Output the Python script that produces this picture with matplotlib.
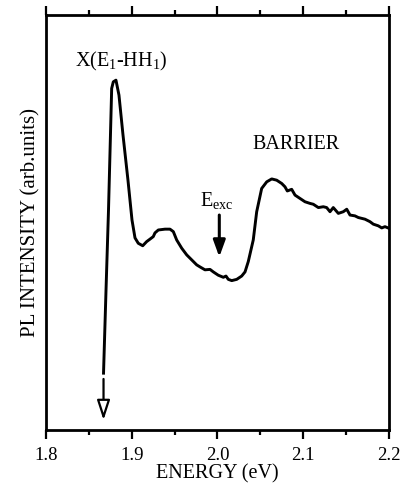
import matplotlib
matplotlib.use("Agg")
import matplotlib.pyplot as plt
from matplotlib.ticker import MultipleLocator

plt.rcParams["font.family"] = ["Liberation Serif", "DejaVu Serif"]
plt.rcParams["mathtext.fontset"] = "custom"
plt.rcParams["mathtext.rm"] = "Liberation Serif"
plt.rcParams["mathtext.it"] = "Liberation Serif:italic"

# PL spectrum (photon energy in eV, intensity in arbitrary units)
energy = [
    1.8671, 1.8700, 1.8729, 1.8766, 1.8785, 1.8816, 1.8851, 1.8898,
    1.8956, 1.9003, 1.9038, 1.9076, 1.9128, 1.9174, 1.9213, 1.9251,
    1.9271, 1.9310, 1.9388, 1.9446, 1.9485, 1.9524, 1.9583, 1.9641,
    1.9699, 1.9757, 1.9796, 1.9854, 1.9913, 1.9951, 2.0009, 2.0068,
    2.0099, 2.0126, 2.0166, 2.0224, 2.0282, 2.0321, 2.0359, 2.0417,
    2.0457, 2.0515, 2.0574, 2.0632, 2.0690, 2.0749, 2.0787, 2.0814,
    2.0865, 2.0904, 2.0962, 2.1020, 2.1079, 2.1117, 2.1176, 2.1234,
    2.1273, 2.1312, 2.1350, 2.1409, 2.1467, 2.1507, 2.1545, 2.1603,
    2.1642, 2.1720, 2.1778, 2.1817, 2.1875, 2.1915, 2.1953, 2.2000,
]
intensity = [
    0.137, 0.337, 0.530, 0.823, 0.839, 0.843, 0.807, 0.711,
    0.602, 0.506, 0.463, 0.450, 0.444, 0.454, 0.460, 0.466,
    0.475, 0.482, 0.484, 0.484, 0.478, 0.458, 0.438, 0.422,
    0.410, 0.398, 0.393, 0.386, 0.387, 0.381, 0.373, 0.368,
    0.371, 0.363, 0.360, 0.363, 0.371, 0.381, 0.406, 0.458,
    0.526, 0.582, 0.598, 0.605, 0.602, 0.594, 0.586, 0.576,
    0.580, 0.566, 0.558, 0.550, 0.546, 0.544, 0.536, 0.538,
    0.536, 0.526, 0.536, 0.522, 0.526, 0.532, 0.518, 0.516,
    0.512, 0.508, 0.502, 0.496, 0.492, 0.487, 0.490, 0.486,
]

# exciton line continues below the frame (open arrow) and excitation energy
exciton_energy = 1.8671
exciton_arrow = (0.123, 0.024)
exc_energy = 2.0021
exc_arrow = (0.518, 0.417)

fig = plt.figure(figsize=(4.03, 4.87), dpi=100)
ax = fig.add_axes([0.1141, 0.1170, 0.8512, 0.8522])

ax.plot(energy, intensity, color="black", lw=2.1, solid_joinstyle="round")

ax.annotate("", xy=(exciton_energy, exciton_arrow[1]),
            xytext=(exciton_energy, exciton_arrow[0]),
            arrowprops=dict(arrowstyle="-|>,head_length=0.4,head_width=0.13",
                            mutation_scale=30, lw=1.6, facecolor="white",
                            edgecolor="black", shrinkA=0, shrinkB=0))
ax.annotate("", xy=(exc_energy, exc_arrow[1]),
            xytext=(exc_energy, exc_arrow[0]),
            arrowprops=dict(arrowstyle="-|>,head_length=0.33,head_width=0.12",
                            mutation_scale=30, lw=2.2, facecolor="black",
                            edgecolor="black", shrinkA=0, shrinkB=0))

ax.text(1.8875, 0.887, r"X(E$_\mathrm{1}$-HH$_\mathrm{1}$)", fontsize=14.5,
        ha="center", va="center")
ax.text(1.9994, 0.552, r"E$_\mathrm{exc}$", fontsize=14.5, ha="center", va="center")
ax.text(2.0915, 0.687, "BARRIER", fontsize=14.5, ha="center", va="center")

ax.set_xlim(1.8, 2.2)
ax.set_ylim(0, 1)
ax.xaxis.set_major_locator(MultipleLocator(0.1))
ax.xaxis.set_minor_locator(MultipleLocator(0.05))
ax.set_xticks([1.8, 1.9, 2.0, 2.1, 2.2])
ax.set_xticklabels(["1.8", "1.9", "2.0", "2.1", "2.2"])
ax.set_yticks([])

ax.tick_params(axis="x", which="both", direction="out", top=True, bottom=True,
               width=1.6, labelsize=13.5, pad=6)
ax.tick_params(axis="x", which="major", length=6.5)
ax.tick_params(axis="x", which="minor", length=3.5)
for side in ax.spines.values():
    side.set_linewidth(2.0)

ax.set_xlabel("ENERGY (eV)", fontsize=14.5, labelpad=0)
ax.set_ylabel("PL INTENSITY (arb.units)", fontsize=15, labelpad=4)

fig.savefig("out.png", dpi=100)
